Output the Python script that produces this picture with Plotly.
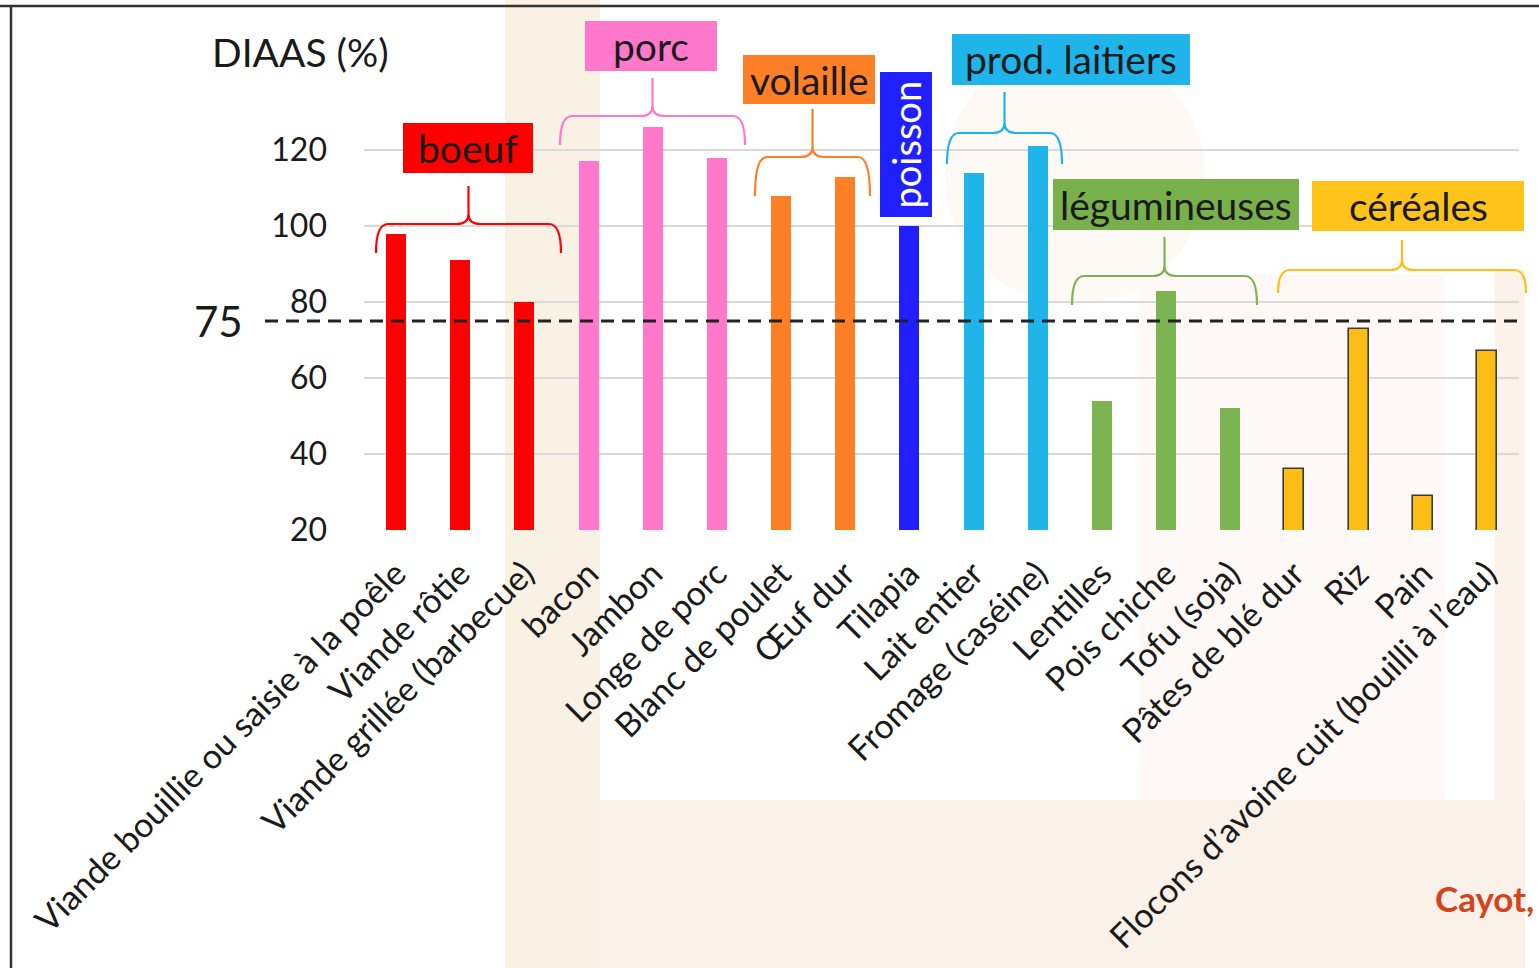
import plotly.graph_objects as go

# ---------------- data ----------------
categories = [
    "Viande bouillie ou saisie à la poêle",
    "Viande rôtie",
    "Viande grillée (barbecue)",
    "bacon",
    "Jambon",
    "Longe de porc",
    "Blanc de poulet",
    "Œuf dur",
    "Tilapia",
    "Lait entier",
    "Fromage (caséine)",
    "Lentilles",
    "Pois chiche",
    "Tofu (soja)",
    "Pâtes de blé dur",
    "Riz",
    "Pain",
    "Flocons d’avoine cuit (bouilli à l’eau)",
]
diaas = [98, 91, 80, 117, 126, 118, 108, 113, 100, 114, 121, 54, 83, 52, 36, 73, 29, 67]
bar_group = ["boeuf"] * 3 + ["porc"] * 3 + ["volaille"] * 2 + ["poisson"] + \
            ["prod. laitiers"] * 2 + ["légumineuses"] * 3 + ["céréales"] * 4
group_names = ["boeuf", "porc", "volaille", "poisson", "prod. laitiers", "légumineuses", "céréales"]
group_colors = ["#ff0000", "#ff78cc", "#ff7f27", "#1f1fff", "#1fb4ea", "#7cb452", "#fdbd14"]
group_box_colors = ["#ff0000", "#ff78cc", "#ff7f27", "#1f1fff", "#1fb4ea", "#78b04c", "#ffc31a"]
ytick_vals = [20, 40, 60, 80, 100, 120]
threshold = 75
y_title = "DIAAS (%)"
source_text = "Cayot,"

# ---------------- geometry helpers (layout) ----------------
W, H = 1539, 968
L, R, T, B = 364, 1519, 74, 530


def xp(px):
    return (px - L) / (R - L)


def yp(py):
    return (B - py) / (B - T)


color_of = dict(zip(group_names, group_colors))
box_color_of = dict(zip(group_names, group_box_colors))
xs = list(range(len(categories)))
bar_colors = [color_of[g] for g in bar_group]
line_w = [1.6 if g == "céréales" else 0 for g in bar_group]
line_c = ["#3a3a3a" if g == "céréales" else color_of[g] for g in bar_group]

fig = go.Figure()
fig.add_trace(go.Bar(
    x=xs, y=diaas, width=0.31,
    marker=dict(color=bar_colors, line=dict(color=line_c, width=line_w)),
    showlegend=False, hoverinfo="x+y",
))

FONT = "Lato, 'Open Sans', sans-serif"
shapes = []
annotations = []

# background watermark (faint)
bg = [
    (505, 0, 600, H, "#f8f1e4"),
    (600, 800, 1525, H, "#faf2e9"),
    (1140, 275, 1445, 800, "#fef9f6"),
    (1495, 270, 1525, 800, "#fbf2e9"),
]
for x0, y0, x1, y1, c in bg:
    shapes.append(dict(type="rect", xref="paper", yref="paper", x0=xp(x0), x1=xp(x1),
                       y0=yp(y1), y1=yp(y0), fillcolor=c, line=dict(width=0), layer="below"))
shapes.append(dict(type="circle", xref="paper", yref="paper", x0=xp(945), x1=xp(1205),
                   y0=yp(305), y1=yp(45), fillcolor="#fef9f5", line=dict(width=0), layer="below"))

# frame lines
shapes.append(dict(type="line", xref="paper", yref="paper", x0=xp(0), x1=xp(W),
                   y0=yp(6), y1=yp(6), line=dict(color="#333333", width=2.5)))
shapes.append(dict(type="line", xref="paper", yref="paper", x0=xp(11), x1=xp(11),
                   y0=yp(6), y1=yp(H), line=dict(color="#333333", width=2.5)))

# threshold dashed line
shapes.append(dict(type="line", xref="paper", yref="y", x0=xp(265), x1=1,
                   y0=threshold, y1=threshold,
                   line=dict(color="#222222", width=3, dash="13px,8px")))

# group labels: (box px x0, y0, x1, y1), brace (left px, right px, base py, end py, tip py)
group_layout = {
    "boeuf": ((403, 123, 533, 173), (376, 561, 224, 253, 186)),
    "porc": ((585, 21, 717, 71), (560, 745, 116, 145, 78)),
    "volaille": ((743, 55, 875, 104), (755, 870, 157, 196, 109)),
    "poisson": ((880, 72, 932, 217), None),
    "prod. laitiers": ((952, 34, 1190, 85), (947, 1062, 133, 164, 92)),
    "légumineuses": ((1053, 179, 1299, 230), (1072, 1257, 276, 305, 237)),
    "céréales": ((1312, 181, 1524, 231), (1278, 1526, 270, 293, 240)),
}

for g in group_names:
    (bx0, by0, bx1, by1), brace = group_layout[g]
    shapes.append(dict(type="rect", xref="paper", yref="paper", x0=xp(bx0), x1=xp(bx1),
                       y0=yp(by1), y1=yp(by0), fillcolor=box_color_of[g],
                       line=dict(width=0), layer="above"))
    cx, cy = xp((bx0 + bx1) / 2), yp((by0 + by1) / 2)
    if g == "poisson":
        annotations.append(dict(x=cx, y=cy, xref="paper", yref="paper",
                                xanchor="center", yanchor="middle",
                                text=g, textangle=-90, showarrow=False,
                                font=dict(family=FONT, size=38, color="white")))
    else:
        annotations.append(dict(x=cx, y=cy, xref="paper", yref="paper",
                                xanchor="center", yanchor="middle",
                                text=g, showarrow=False,
                                font=dict(family=FONT, size=39, color="#1a1a1a")))
    if brace:
        l, r, base, end, tip = brace
        m = (l + r) / 2
        d = 12
        pts = [
            f"M {xp(l)},{yp(end)}",
            f"Q {xp(l)},{yp(base)} {xp(l + d)},{yp(base)}",
            f"L {xp(m - d)},{yp(base)}",
            f"Q {xp(m)},{yp(base)} {xp(m)},{yp(base - 10)}",
            f"L {xp(m)},{yp(tip)}",
            f"M {xp(m)},{yp(base - 10)}",
            f"Q {xp(m)},{yp(base)} {xp(m + d)},{yp(base)}",
            f"L {xp(r - d)},{yp(base)}",
            f"Q {xp(r)},{yp(base)} {xp(r)},{yp(end)}",
        ]
        shapes.append(dict(type="path", xref="paper", yref="paper", path=" ".join(pts),
                           line=dict(color=color_of[g], width=2.2)))

# title, 75 label, source
annotations.append(dict(x=xp(210), y=yp(52), xref="paper", yref="paper",
                        xanchor="left", yanchor="middle",
                        text=y_title, showarrow=False,
                        font=dict(family=FONT, size=39, color="#1a1a1a")))
annotations.append(dict(x=xp(245), y=threshold, xref="paper", yref="y",
                        xanchor="right", yanchor="middle",
                        text=str(threshold), showarrow=False,
                        font=dict(family=FONT, size=42, color="#1a1a1a")))
annotations.append(dict(x=xp(1536), y=yp(898), xref="paper", yref="paper",
                        xanchor="right", yanchor="middle",
                        text=f"<b>{source_text}</b>", showarrow=False,
                        font=dict(family=FONT, size=35, color="#d4441c")))

fig.update_layout(
    width=W, height=H,
    margin=dict(l=L, r=W - R, t=T, b=H - B, pad=0),
    paper_bgcolor="white", plot_bgcolor="rgba(0,0,0,0)",
    shapes=shapes, annotations=annotations,
    bargap=0,
    font=dict(family=FONT, color="#1a1a1a"),
)
fig.update_xaxes(
    range=[-0.5, len(categories) - 0.5], tickmode="array", tickvals=xs, ticktext=categories,
    tickangle=-45, tickfont=dict(size=34, family=FONT, color="#1a1a1a"),
    showgrid=False, zeroline=False, showline=False, ticks="", automargin=False,
    ticklabelstandoff=16,
)
fig.update_yaxes(
    range=[20, 140], tickmode="array", tickvals=ytick_vals,
    tickfont=dict(size=32, family=FONT, color="#1a1a1a"),
    showgrid=True, gridcolor="#d9d9d9", gridwidth=1.5, zeroline=False, showline=False,
    ticks="", ticklabelstandoff=36, automargin=False,
)

fig.write_html("out.html", config={"displayModeBar": False},
               post_script="document.body.style.margin='0';")
